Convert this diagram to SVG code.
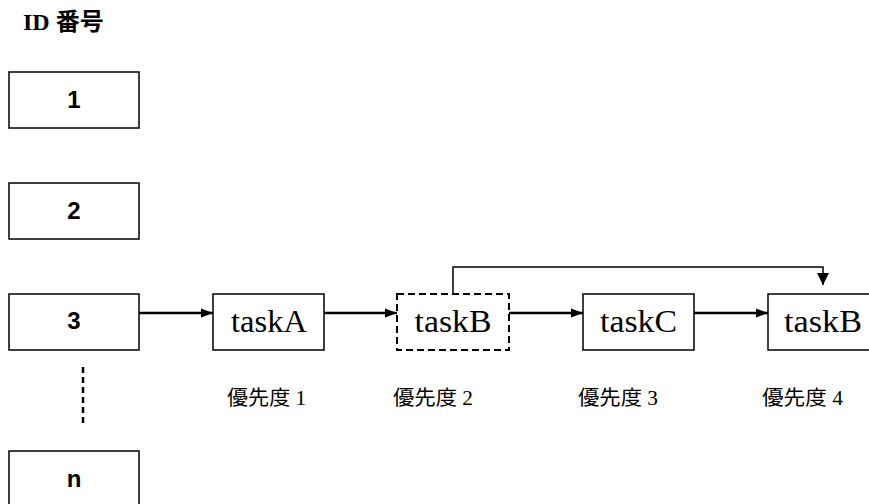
<svg xmlns="http://www.w3.org/2000/svg" width="869" height="504" viewBox="0 0 869 504">
<style>
.box{fill:#fff;stroke:#000;stroke-width:1.5}
.dbox{fill:#fff;stroke:#000;stroke-width:2;stroke-dasharray:7 4}
.num{font-family:"Liberation Sans",Arial,sans-serif;font-weight:bold;font-size:24px;text-anchor:middle;fill:#000}
.task{font-family:"Liberation Serif","Times New Roman",serif;font-size:32px;text-anchor:middle;fill:#000}
.lbl{font-family:"Liberation Serif","Noto Sans CJK JP",serif;font-size:20px;fill:#000}
.title{font-family:"Liberation Serif","Noto Sans CJK JP",serif;font-weight:bold;font-size:24px;fill:#000}
.arr{fill:none;stroke:#000;stroke-width:2.5}
.thin{fill:none;stroke:#000;stroke-width:1.5}
</style>
<defs>
<marker id="ah" viewBox="0 0 12 10" markerWidth="12" markerHeight="10" refX="12" refY="5" orient="auto" markerUnits="userSpaceOnUse">
<path d="M0,0.5 L12,5 L0,9.5 Z" fill="#000"/>
</marker>
<marker id="ah2" viewBox="0 0 12 12" markerWidth="12" markerHeight="12" refX="12" refY="6" orient="auto" markerUnits="userSpaceOnUse">
<path d="M0,0 L12,6 L0,12 Z" fill="#000"/>
</marker>
</defs>
<text id="title" class="title" x="23" y="30">ID 番号</text>
<g id="id1"><rect class="box" x="9" y="72" width="130" height="56"/><text class="num" x="74" y="108">1</text></g>
<g id="id2"><rect class="box" x="9" y="183" width="130" height="56"/><text class="num" x="74" y="219">2</text></g>
<g id="id3"><rect class="box" x="9" y="294" width="130" height="56"/><text class="num" x="74" y="329">3</text></g>
<g id="idn"><rect class="box" x="9" y="451" width="130" height="57"/><text class="num" x="74" y="487">n</text></g>
<g id="taskA"><rect class="box" x="213" y="294" width="111" height="56"/><text class="task" x="269" y="332" textLength="76" lengthAdjust="spacingAndGlyphs">taskA</text></g>
<g id="taskB1"><rect class="dbox" x="397" y="294" width="112" height="56"/><text class="task" x="453" y="332" textLength="77" lengthAdjust="spacingAndGlyphs">taskB</text></g>
<g id="taskC"><rect class="box" x="583" y="294" width="111" height="56"/><text class="task" x="638.5" y="332" textLength="77" lengthAdjust="spacingAndGlyphs">taskC</text></g>
<g id="taskB2"><rect class="box" x="768" y="294" width="110" height="56"/><text class="task" x="823" y="332" textLength="78" lengthAdjust="spacingAndGlyphs">taskB</text></g>
<g id="labels">
<text class="lbl" x="227" y="405" textLength="79" lengthAdjust="spacingAndGlyphs">優先度 1</text>
<text class="lbl" x="393" y="405" textLength="80" lengthAdjust="spacingAndGlyphs">優先度 2</text>
<text class="lbl" x="578" y="405" textLength="80" lengthAdjust="spacingAndGlyphs">優先度 3</text>
<text class="lbl" x="762" y="405" textLength="81" lengthAdjust="spacingAndGlyphs">優先度 4</text>
</g>
<g id="connectors">
<line class="arr" x1="139" y1="313" x2="213" y2="313" marker-end="url(#ah)"/>
<line class="arr" x1="324" y1="313" x2="397" y2="313" marker-end="url(#ah)"/>
<line class="arr" x1="509" y1="313" x2="583" y2="313" marker-end="url(#ah)"/>
<line class="arr" x1="694" y1="313" x2="768" y2="313" marker-end="url(#ah)"/>
<path class="thin" d="M453,294 V267 H823 V285" marker-end="url(#ah2)"/>
<line x1="83" y1="367" x2="83" y2="424" stroke="#000" stroke-width="2.5" stroke-dasharray="6 4"/>
</g>
</svg>
